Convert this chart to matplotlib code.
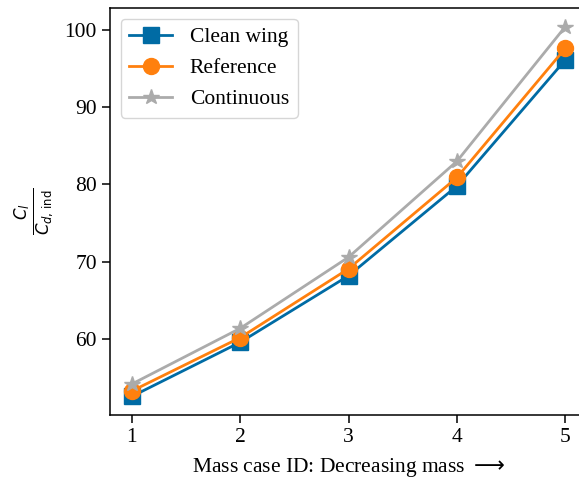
import matplotlib.pyplot as plt

plt.rcParams['font.family'] = ['Liberation Serif', 'DejaVu Serif']
plt.rcParams['font.size'] = 15.5
plt.rcParams['axes.linewidth'] = 1.1
plt.rcParams['xtick.major.size'] = 6
plt.rcParams['ytick.major.size'] = 6
plt.rcParams['xtick.major.width'] = 1.1
plt.rcParams['ytick.major.width'] = 1.1

mass_case = [1, 2, 3, 4, 5]
clean_wing = [52.6, 59.6, 68.2, 79.8, 96.1]
reference = [53.3, 60.2, 69.1, 80.9, 97.6]
continuous = [54.2, 61.4, 70.6, 83.0, 100.4]

fig = plt.figure(figsize=(5.79, 4.88), dpi=100)
ax = fig.add_axes([0.19, 0.1496, 0.824, 0.834])

ax.plot(mass_case, clean_wing, marker='s', markersize=11.5, lw=2, color='#006BA4', label='Clean wing')
ax.plot(mass_case, reference, marker='o', markersize=11.5, lw=2, color='#FF800E', label='Reference')
ax.plot(mass_case, continuous, marker='*', markersize=11.5, lw=2, color='#ABABAB', label='Continuous')

ax.set_xticks(mass_case)
ax.set_yticks([60, 70, 80, 90, 100])
ax.set_xlabel(r'Mass case ID: Decreasing mass $\longrightarrow$', labelpad=6)
ax.set_ylabel(r'$\frac{C_l}{C_{d,\, \mathrm{ind}}}$', fontsize=17, labelpad=6)
ax.legend(loc='upper left')

fig.savefig('out.png', dpi=100)
